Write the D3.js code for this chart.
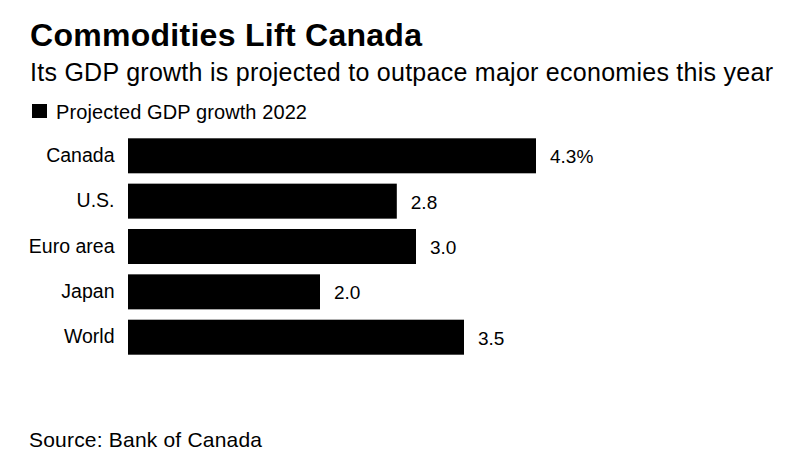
<!DOCTYPE html>
<html>
<head>
<meta charset="utf-8">
<script src="https://cdn.jsdelivr.net/npm/d3@7"></script>
<style>
  html, body { margin: 0; padding: 0; background: #fff; }
  svg { display: block; font-family: "Liberation Sans", Arial, sans-serif; }
</style>
</head>
<body>
<svg id="chart" width="786" height="471"></svg>
<script>
const categories = ["Canada", "U.S.", "Euro area", "Japan", "World"];
const values = [4.25, 2.8, 3.0, 2.0, 3.5];
const valueLabels = ["4.3%", "2.8", "3.0", "2.0", "3.5"];
const seriesName = "Projected GDP growth 2022";
const title = "Commodities Lift Canada";
const subtitle = "Its GDP growth is projected to outpace major economies this year";
const source = "Source: Bank of Canada";

const svg = d3.select("#chart");
svg.append("rect").attr("width", 786).attr("height", 471).attr("fill", "#fff");

function fit(sel, target) {
  const n = sel.text().length;
  const len = sel.node().getComputedTextLength();
  if (n > 1) sel.attr("letter-spacing", ((target - len) / (n - 1)).toFixed(3));
  return sel;
}

fit(svg.append("text").attr("x", 30).attr("y", 46)
  .attr("font-size", 32).attr("font-weight", "bold").attr("fill", "#000")
  .text(title), 392);
fit(svg.append("text").attr("x", 30).attr("y", 81)
  .attr("font-size", 25).attr("fill", "#000")
  .text(subtitle), 743);

// legend
svg.append("rect").attr("x", 32).attr("y", 104).attr("width", 15).attr("height", 14).attr("fill", "#000");
fit(svg.append("text").attr("x", 56).attr("y", 118.5)
  .attr("font-size", 20).attr("fill", "#000")
  .text(seriesName), 251);

const x = d3.scaleLinear().domain([0, 4.25]).range([128, 536]);
const y = d3.scaleBand().domain(categories).range([138.3, 354.7]).paddingInner(0.228).paddingOuter(0);

const g = svg.append("g");
g.selectAll("rect.bar").data(categories).join("rect")
  .attr("class", "bar")
  .attr("x", x(0))
  .attr("y", d => y(d))
  .attr("width", (d, i) => x(values[i]) - x(0))
  .attr("height", y.bandwidth())
  .attr("fill", "#000");

const yAxis = d3.axisLeft(y).tickSize(0).tickPadding(13.5);
const ya = svg.append("g").attr("transform", `translate(${x(0)},0)`).call(yAxis);
ya.select(".domain").remove();
ya.selectAll("text").attr("font-size", 19.5).attr("font-family", "Liberation Sans, Arial, sans-serif").attr("fill", "#000");

g.selectAll("text.val").data(categories).join("text")
  .attr("class", "val")
  .attr("x", (d, i) => x(values[i]) + 14)
  .attr("y", d => y(d) + y.bandwidth() / 2)
  .attr("dy", "0.4em")
  .attr("font-size", 19).attr("fill", "#000")
  .text((d, i) => valueLabels[i]);

fit(svg.append("text").attr("x", 29).attr("y", 447)
  .attr("font-size", 21).attr("fill", "#000")
  .text(source), 233);
</script>
</body>
</html>
